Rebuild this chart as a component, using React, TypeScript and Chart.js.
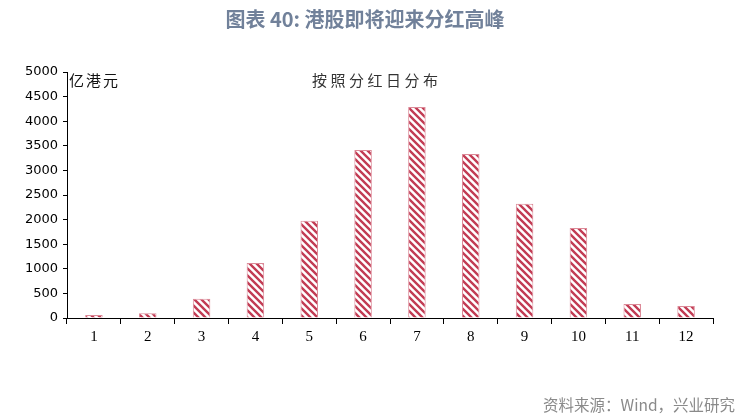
import * as React from 'react';
import { useEffect, useRef } from 'react';
import { Chart, registerables } from 'chart.js';

Chart.register(...registerables);

// 按分红日(月份)分布, 亿港元
const months = ['1', '2', '3', '4', '5', '6', '7', '8', '9', '10', '11', '12'];
const dividends = [60, 95, 390, 1120, 1975, 3415, 4290, 3335, 2320, 1830, 285, 245];
const yMax = 5000;
const yStep = 500;

const titleText = '图表 40: 港股即将迎来分红高峰';
const unitText = '亿港元';
const subtitleText = '按照分红日分布';
const sourceText = '资料来源：Wind，兴业研究';

const makeStripes = () => {
  const s = 7;
  const tile = document.createElement('canvas');
  tile.width = s;
  tile.height = s;
  const c = tile.getContext('2d');
  c.fillStyle = '#ffffff';
  c.fillRect(0, 0, s, s);
  c.strokeStyle = '#c23c54';
  c.lineWidth = 2.4;
  c.beginPath();
  c.moveTo(-1, -1);
  c.lineTo(s + 1, s + 1);
  c.moveTo(-1, s - 1);
  c.lineTo(1, s + 1);
  c.moveTo(s - 1, -1);
  c.lineTo(s + 1, 1);
  c.stroke();
  return c.createPattern(tile, 'repeat');
};

// titles and notes drawn straight on the canvas
const textPlugin = {
  id: 'texts',
  afterDraw: (chart) => {
    const ctx = chart.ctx;
    ctx.save();
    ctx.textBaseline = 'middle';

    ctx.font = 'bold 20px "Noto Sans CJK SC"';
    ctx.fillStyle = '#71819a';
    ctx.textAlign = 'center';
    ctx.fillText(titleText, 365, 19);

    ctx.font = '15px "Noto Sans CJK SC"';
    ctx.textAlign = 'left';
    ctx.fillStyle = '#111';
    (ctx as any).letterSpacing = '2px';
    ctx.fillText(unitText, 69, 80);

    ctx.fillStyle = '#333';
    (ctx as any).letterSpacing = '3.5px';
    ctx.fillText(subtitleText, 312, 80);

    (ctx as any).letterSpacing = '0px';
    ctx.font = '15.5px "Noto Sans CJK SC"';
    ctx.fillStyle = '#8a8a8a';
    ctx.textAlign = 'right';
    ctx.fillText(sourceText, 735, 405);
    ctx.restore();
  }
};

export default function App() {
  const canvasRef = useRef(null);

  useEffect(() => {
    const chart = new Chart(canvasRef.current, {
      type: 'bar',
      data: {
        labels: months,
        datasets: [{
          label: unitText,
          data: dividends,
          backgroundColor: makeStripes(),
          borderColor: '#dc8a98',
          borderWidth: 1,
          barPercentage: 0.65,
          categoryPercentage: 0.5
        }]
      },
      options: {
        animation: false,
        responsive: true,
        maintainAspectRatio: false,
        layout: { padding: { left: 0, right: 43, top: 72, bottom: 0 } },
        plugins: {
          legend: { display: false },
          tooltip: { enabled: false },
          title: { display: false }
        },
        scales: {
          x: {
            offset: true,
            afterFit: (scale) => { scale.height = 101; },
            grid: {
              display: true,
              offset: true,
              drawOnChartArea: false,
              drawTicks: true,
              tickLength: 6,
              color: '#000'
            },
            border: { display: true, color: '#000', width: 1 },
            ticks: {
              padding: 4,
              color: '#000',
              font: { family: '"Liberation Serif"', size: 15 }
            }
          },
          y: {
            min: 0,
            max: yMax,
            afterFit: (scale) => { scale.width = 67; },
            grid: {
              display: true,
              drawOnChartArea: false,
              drawTicks: true,
              tickLength: 4,
              color: '#000'
            },
            border: { display: true, color: '#000', width: 1 },
            ticks: {
              stepSize: yStep,
              padding: 5,
              color: '#000',
              font: { family: '"DejaVu Sans"', size: 13 },
              callback: (value) => `${value}`
            }
          }
        }
      },
      plugins: [textPlugin]
    });
    return () => chart.destroy();
  }, []);

  return <div style={{ position: 'absolute', left: 0, top: 0, width: 756, height: 419, background: '#fff' }}>
    <canvas ref={canvasRef} />
  </div>;
}
